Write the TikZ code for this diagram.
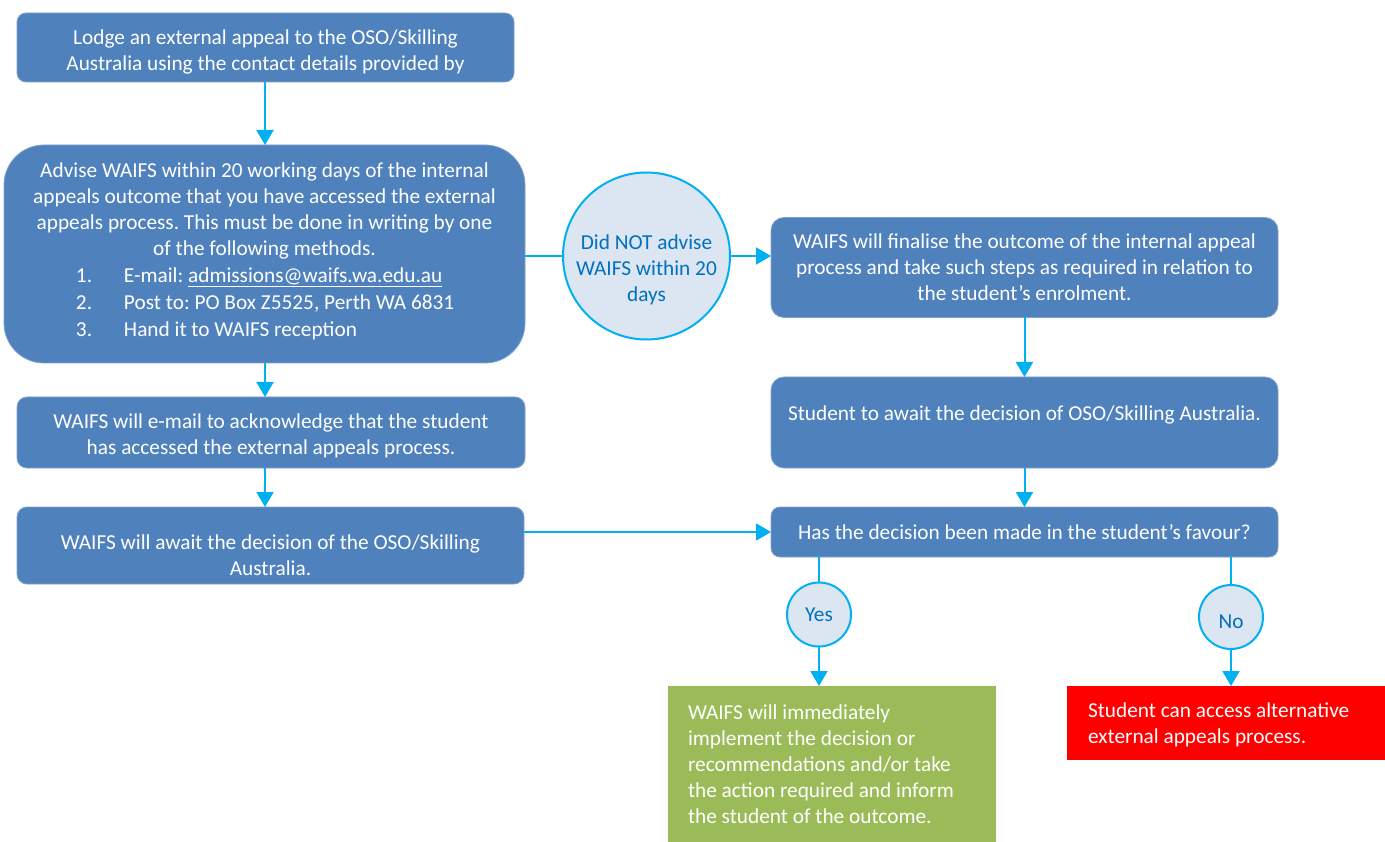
\documentclass[tikz,border=0pt]{standalone}
\usepackage{fontspec}
\setmainfont{Carlito}
\usetikzlibrary{arrows.meta}
\definecolor{boxblue}{HTML}{4F81BD}
\definecolor{boxedge}{HTML}{7FA3D0}
\definecolor{cyanline}{HTML}{00B0F0}
\definecolor{circfill}{HTML}{DCE6F2}
\definecolor{circtext}{HTML}{0070C0}
\definecolor{greenbox}{HTML}{9BBB59}
\definecolor{redbox}{HTML}{FF0000}
\frenchspacing
\begin{document}
\begin{tikzpicture}[x=1pt,y=-1pt,
  every node/.style={font=\fontsize{21.3}{26}\selectfont, inner sep=0pt, outer sep=0pt},
  bluebox/.style={fill=boxblue, draw=boxedge, line width=0.8pt, text=white, align=center},
  circnode/.style={circle, fill=circfill, draw=cyanline, line width=2pt, text=circtext, align=center},
  conn/.style={draw=cyanline, line width=2pt},
  arr/.style={conn, -{Triangle[width=17pt,length=15pt]}}
]
\useasboundingbox (0,0) rectangle (1385,842);
\fill[white] (0,0) rectangle (1385,842);

% left column
\node[bluebox, rounded corners=9pt, minimum width=497pt, minimum height=69pt] (b1) at (265.5,47.5)
  {\rule{0pt}{23pt}Lodge an external appeal to the OSO/Skilling\\Australia using the contact details provided by};

\node[bluebox, rounded corners=40pt, minimum width=521pt, minimum height=218pt] (b2) at (264.5,254)
  {Advise WAIFS within 20 working days of the internal\\
   appeals outcome that you have accessed the external\\
   appeals process. This must be done in writing by one\\
   of the following methods.\\[1pt]
   \makebox[377pt][l]{\makebox[48pt][l]{1.}E-mail: \underline{admissions@waifs.wa.edu.au}}\\[1pt]
   \makebox[377pt][l]{\makebox[48pt][l]{2.}Post to: PO Box Z5525, Perth WA 6831}\\[1pt]
   \makebox[377pt][l]{\makebox[48pt][l]{3.}Hand it to WAIFS reception}\\[-17pt]\mbox{}};

\node[bluebox, rounded corners=10pt, minimum width=508pt, minimum height=71pt] (b3) at (271,432.5)
  {\rule{0pt}{22pt}WAIFS will e-mail to acknowledge that the student\\has accessed the external appeals process.};

\node[bluebox, rounded corners=10pt, minimum width=507pt, minimum height=77pt] (b4) at (270.5,545.5)
  {\mbox{}\\[9pt]WAIFS will await the decision of the OSO/Skilling\\Australia.};

% decision circle
\node[circnode, minimum size=167pt, inner sep=-10pt] (c1) at (646.5,256)
  {\rule{0pt}{43pt}Did NOT advise\\WAIFS within 20\\days};

% right column
\node[bluebox, rounded corners=13pt, minimum width=507pt, minimum height=100pt] (b5) at (1024.5,267.5)
  {WAIFS will finalise the outcome of the internal appeal\\process and take such steps as required in relation to\\the student’s enrolment.};

\node[bluebox, rounded corners=13pt, minimum width=507pt, minimum height=91pt] (b6) at (1024.5,422.5)
  {Student to await the decision of OSO/Skilling Australia.\\[-8pt]\mbox{}};

\node[bluebox, rounded corners=9pt, minimum width=507pt, minimum height=50pt] (b7) at (1024.5,532)
  {Has the decision been made in the student’s favour?};

\node[circnode, minimum size=64pt] (yes) at (819,614.5) {Yes};
\node[circnode, minimum size=64pt] (no) at (1231,617) {\rule{0pt}{23.6pt}No};

\node[fill=greenbox, minimum width=328pt, minimum height=156pt, text=white] (g) at (832,764)
  {\begin{minipage}[c][156pt][t]{328pt}\vspace{19pt}\hspace*{20pt}\begin{minipage}{300pt}\raggedright
   WAIFS will immediately\\implement the decision or\\recommendations and/or take\\the action required and inform\\the student of the outcome.\end{minipage}\end{minipage}};

\node[fill=redbox, minimum width=318pt, minimum height=74pt, text=white] (r) at (1226,723)
  {\begin{minipage}[c][74pt][t]{318pt}\vspace{17pt}\hspace*{21pt}\begin{minipage}{290pt}\raggedright
   Student can access alternative\\external appeals process.\end{minipage}\end{minipage}};

% connectors
\coordinate (x1) at (265,0);
\draw[arr] (b1.south -| x1) -- (b2.north -| x1);
\draw[arr] (b2.south -| x1) -- (b3.north -| x1);
\draw[arr] (b3.south -| x1) -- (b4.north -| x1);
\draw[conn] (b2.east |- c1.west) -- (c1.west);
\draw[arr] (c1.east) -- (c1.east -| b5.west);
\draw[arr] (b4.east |- b7.west) -- (b7.west);
\draw[arr] (b5.south) -- (b6.north);
\draw[arr] (b6.south) -- (b7.north);
\draw[conn] (b7.south -| yes) -- (yes.north);
\draw[arr] (yes.south) -- (yes.south |- g.north);
\draw[conn] (b7.south -| no) -- (no.north);
\draw[arr] (no.south) -- (no.south |- r.north);
\end{tikzpicture}
\end{document}
